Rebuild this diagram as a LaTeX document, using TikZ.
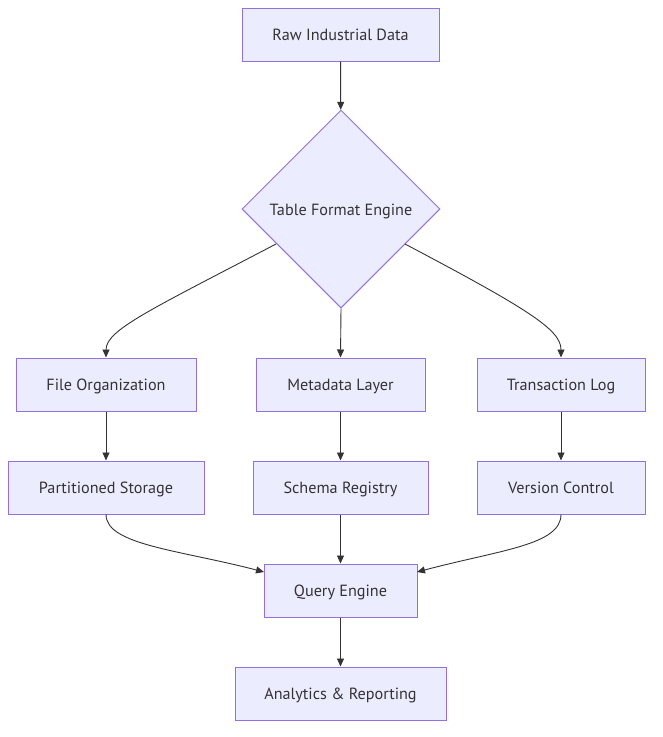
\documentclass[tikz,border=0pt]{standalone}
\usepackage{fontspec}
\setmainfont{PT Sans}
\usetikzlibrary{shapes.geometric,arrows.meta}
\definecolor{nodefill}{HTML}{ECECFF}
\definecolor{nodeline}{HTML}{9370DB}
\definecolor{edgecol}{HTML}{333333}
\begin{document}
\begin{tikzpicture}[x=1pt,y=-1pt,
  box/.style={draw=nodeline,fill=nodefill,line width=1pt,minimum height=53pt,inner sep=0pt,text height=14pt,text depth=2pt,text=edgecol,font=\fontsize{16.2}{19}\selectfont},
  dia/.style={draw=nodeline,fill=nodefill,line width=1pt,diamond,minimum width=198pt,minimum height=198pt,inner sep=0pt,text height=14pt,text depth=2pt,text=edgecol,font=\fontsize{16.2}{19}\selectfont},
  edge/.style={draw=edgecol,line width=0.9pt,-{Triangle[length=8pt,width=7pt]}}]
\useasboundingbox (0,0) rectangle (662,737);
\node[box,minimum width=197pt] (raw) at (340.5,34.5) {Raw Industrial Data};
\node[dia] (tfe) at (341,209) {Table Format Engine};
\node[box,minimum width=180pt] (fo) at (106,384.5) {File Organization};
\node[box,minimum width=169pt] (ml) at (340.5,384.5) {Metadata Layer};
\node[box,minimum width=168pt] (tl) at (561,384.5) {Transaction Log};
\node[box,minimum width=196pt] (ps) at (106,487.5) {Partitioned Storage};
\node[box,minimum width=175pt] (sr) at (340.5,487.5) {Schema Registry};
\node[box,minimum width=168pt] (vc) at (561,487.5) {Version Control};
\node[box,minimum width=153pt] (qe) at (340.5,590.5) {Query Engine};
\node[box,minimum width=211pt] (ar) at (340.5,693.5) {Analytics \& Reporting};
\coordinate (tfl) at (276,244);
\coordinate (tfr) at (405,244);
\coordinate (qel) at (264,572);
\coordinate (qer) at (417,572);
\draw[edge] (raw) -- (tfe);
\draw[edge] (tfl) .. controls (150,310) and (106,330) .. (fo.north);
\draw[edge] (tfe.south) -- (ml.north);
\draw[edge] (tfr) .. controls (530,310) and (561,330) .. (tl.north);
\draw[edge] (fo) -- (ps);
\draw[edge] (ml) -- (sr);
\draw[edge] (tl) -- (vc);
\draw[edge] (ps.south) .. controls (106,545) and (180,550) .. (qel);
\draw[edge] (sr) -- (qe);
\draw[edge] (vc.south) .. controls (561,545) and (500,550) .. (qer);
\draw[edge] (qe) -- (ar);
\end{tikzpicture}
\end{document}
